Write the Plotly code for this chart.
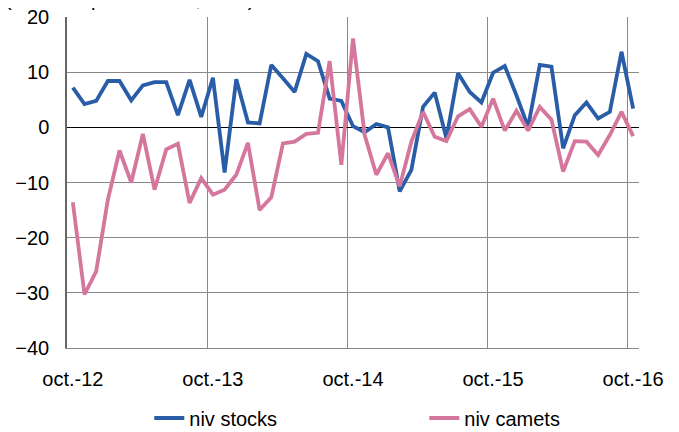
import plotly.graph_objects as go

months = [f"{m}-{y}" for y in range(12, 17) for m in
          (["oct", "nov", "dec"] if y == 12 else
           ["jan", "feb", "mar", "apr", "may", "jun", "jul", "aug", "sep", "oct", "nov", "dec"])][:49]

niv_stocks = [7.2, 4.2, 4.8, 8.4, 8.4, 4.9, 7.6, 8.2, 8.2, 2.2, 8.6, 1.9,
              9.0, -8.2, 8.7, 0.9, 0.7, 11.3, 8.9, 6.4, 13.3, 12.0, 5.2, 4.8,
              0.2, -0.9, 0.6, 0.0, -11.6, -7.7, 3.7, 6.3, -2.0, 9.8, 6.4, 4.5,
              9.9, 11.1, 5.8, 0.1, 11.3, 11.0, -3.8, 2.2, 4.5, 1.6, 2.8, 13.7,
              3.4]
niv_carnets = [-13.6, -30.3, -26.1, -13.1, -4.2, -10.0, -1.2, -11.3, -4.0, -3.0, -13.7, -9.2,
               -12.2, -11.3, -8.6, -2.8, -15.0, -12.7, -2.9, -2.6, -1.2, -1.0, 12.0, -6.8,
               16.1, -1.4, -8.6, -4.7, -10.7, -2.6, 2.8, -1.7, -2.5, 2.0, 3.3, 0.1,
               5.2, -0.6, 3.0, -0.6, 3.7, 1.4, -8.0, -2.5, -2.6, -5.0, -1.4, 2.8,
               -1.6]
tick_labels = ["oct.-12", "oct.-13", "oct.-14", "oct.-15", "oct.-16"]

# category positions (centre of each month slot)
xpos = [i + 0.5 for i in range(len(niv_stocks))]
tick_pos = [xpos[i] for i in range(0, len(niv_stocks), 12)]

FONT = "Arial, Liberation Sans, sans-serif"
BLUE = "#2A5DA8"
PINK = "#D5769C"

W, H = 671, 424  # page has an 8px body margin

fig = go.Figure()
fig.add_trace(go.Scatter(x=xpos, y=niv_stocks, mode="lines", name="niv stocks",
                         line=dict(color=BLUE, width=3.8), text=months))
fig.add_trace(go.Scatter(x=xpos, y=niv_carnets, mode="lines", name="niv camets",
                         line=dict(color=PINK, width=3.8), text=months))

fig.update_layout(
    width=W, height=H,
    margin=dict(l=59, r=40, t=9, b=84, autoexpand=False),
    paper_bgcolor="white", plot_bgcolor="white",
    font=dict(family=FONT, size=20, color="#000000"),
    showlegend=True,
    legend=dict(orientation="h", xref="container", yref="container",
                x=416.3 / W, xanchor="center", y=14 / H, yanchor="middle",
                font=dict(size=20), entrywidth=230, entrywidthmode="pixels",
                tracegroupgap=0, bgcolor="rgba(0,0,0,0)"),
    xaxis=dict(range=[0, len(niv_stocks)], tickmode="array", tickvals=tick_pos,
               ticktext=tick_labels, showgrid=False, zeroline=False,
               showline=True, linecolor="#888888", linewidth=1,
               ticks="", ticklabelstandoff=13, automargin=False,
               ticklabeloverflow="allow",
               minor=dict(tickmode="linear", tick0=0, dtick=12, showgrid=True,
                          gridcolor="#888888", gridwidth=1)),
    yaxis=dict(range=[-40, 20], dtick=10, showgrid=True, gridcolor="#888888",
               gridwidth=1, zeroline=True, zerolinecolor="#000000", zerolinewidth=1,
               showline=True, linecolor="#666666", linewidth=1.5,
               ticks="", ticklabelstandoff=12, automargin=False,
               ticklabeloverflow="allow"),
)

fig.add_annotation(text="(solde d'opinion en %, CVS)", xref="paper", yref="paper",
                   x=-64 / 572, xanchor="left", y=1.015, yanchor="bottom",
                   showarrow=False, font=dict(size=20, family=FONT))

fig.write_html("out.html")
